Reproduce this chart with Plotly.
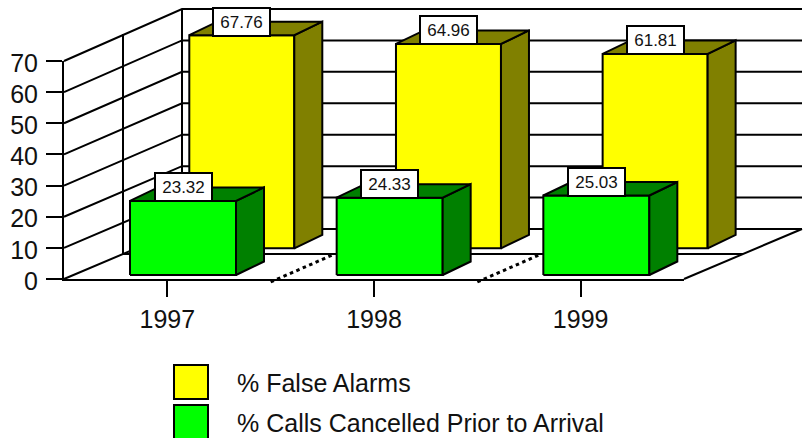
import plotly.graph_objects as go

# ---- data ----
years = ["1997", "1998", "1999"]
false_alarms = [67.76, 64.96, 61.81]
calls_cancelled = [23.32, 24.33, 25.03]
value_ticks = [0, 10, 20, 30, 40, 50, 60, 70]
legend_labels = ["% False Alarms", "% Calls Cancelled Prior to Arrival"]

# ---- canvas / pseudo-3D projection settings (pixels) ----
W, H = 804, 438
AX_L, AX_R, AX_B, AX_T = 64, 684, 279, 61
PX_CAT = (AX_R - AX_L) / 3
PX_VAL = (AX_B - AX_T) / 70
FONT = "Liberation Sans"
TXT = "#111111"
WALL_GAIN = 1.0093
WALL_DX, WALL_DY = 118, 50
RIGHT_EDGE = 802


def pt(cat, val, sx=0.0, sy=0.0, gain=1.0):
    """category/value position plus a depth shift given in pixels"""
    return cat + sx / PX_CAT, val * gain + sy / PX_VAL


fig = go.Figure()


def poly(points, fill=None, dash=None, width=2):
    xs = [p[0] for p in points]
    ys = [p[1] for p in points]
    if fill:
        xs.append(xs[0])
        ys.append(ys[0])
    fig.add_trace(go.Scatter(
        x=xs, y=ys, mode="lines", showlegend=False, hoverinfo="skip",
        fill="toself" if fill else None, fillcolor=fill,
        line=dict(color="black", width=width, dash=dash),
    ))


# walls
right_cat = (RIGHT_EDGE - AX_L) / PX_CAT
for v in value_ticks:
    poly([pt(0, v), pt(0, v, WALL_DX, WALL_DY, WALL_GAIN), pt(right_cat - WALL_DX / PX_CAT, v, WALL_DX, WALL_DY, WALL_GAIN)])
poly([pt(0, 0, WALL_DX, WALL_DY), pt(0, 70, WALL_DX, WALL_DY, WALL_GAIN)])
poly([pt(0, 0, WALL_DX / 2, WALL_DY / 2), pt(0, 70, WALL_DX / 2, WALL_DY / 2, WALL_GAIN)])
poly([pt(0, 0, WALL_DX / 2, WALL_DY / 2), pt(3, 0, WALL_DX / 2, WALL_DY / 2)])
poly([pt(3, 0), pt(3, 0, WALL_DX, WALL_DY)])

# dotted category separators on the floor
for c in (1, 2):
    poly([pt(c, 0, 0, -3), pt(c, 0, 64, 25)], dash="3.5px,3.5px", width=3)


def bar(cat, val, left, width, base, gain, face, dark, ddx=28, ddy=13.5):
    a = pt(cat, 0, left, base)
    b = pt(cat, 0, left + width, base)
    c = pt(cat, val, left + width, base, gain)
    d = pt(cat, val, left, base, gain)
    sb = pt(cat, 0, left + width + ddx, base + ddy)
    sc = pt(cat, val, left + width + ddx, base + ddy, gain)
    sd = pt(cat, val, left + ddx, base + ddy, gain)
    poly([a, b, c, d], fill=face)
    poly([b, sb, sc, c], fill=dark)
    poly([d, c, sc, sd], fill=dark)


annots = []


def label(cat, val, left, width, base, gain, ddy=13.5):
    x, y = pt(cat, val, left + width / 2, base + ddy, gain)
    annots.append(dict(
        x=x, y=y, xref="x", yref="y", text=f"{val:.2f}", showarrow=False,
        bgcolor="white", bordercolor="black", borderwidth=2, borderpad=0,
        width=55, height=26, align="center", valign="middle",
        font=dict(family=FONT, size=17, color=TXT),
    ))


for i, v in enumerate(false_alarms):
    bar(i, v, 125.3, 105, 30.7, 1.01, "#ffff00", "#808000")
for i, v in enumerate(calls_cancelled):
    bar(i, v, 66, 106, 4, 1.02, "#00ff00", "#008000")
for i, v in enumerate(false_alarms):
    label(i, v, 125.3, 105, 30.7, 1.01)
for i, v in enumerate(calls_cancelled):
    label(i, v, 66, 106, 4, 1.02)

# invisible carrier for the real tick axes
fig.add_trace(go.Scatter(x=[0.5, 1.5, 2.5], y=[0, 0, 0], xaxis="x2", yaxis="y2", mode="lines",
                         line=dict(color="rgba(0,0,0,0)"), showlegend=False, hoverinfo="skip"))

# legend
shapes = []
swatch_colors = ["#ffff00", "#00ff00"]
for k, (name, col) in enumerate(zip(legend_labels, swatch_colors)):
    top = 365 + 40 * k
    shapes.append(dict(
        type="rect", xref="paper", yref="paper", layer="above",
        x0=174 / W, x1=208 / W, y0=1 - top / H, y1=1 - (top + 34) / H,
        fillcolor=col, line=dict(color="black", width=2),
    ))
    annots.append(dict(
        x=235 / W, y=1 - (top + 18) / H, xref="paper", yref="paper", xanchor="left", yanchor="middle",
        text=name, showarrow=False, font=dict(family=FONT, size=25, color=TXT),
    ))

fig.update_layout(
    width=W, height=H, margin=dict(l=0, r=0, t=0, b=0, pad=0, autoexpand=False), autosize=False,
    paper_bgcolor="white", plot_bgcolor="rgba(0,0,0,0)", showlegend=False,
    font=dict(family=FONT, size=25, color=TXT),
    # full-canvas scales used by the marks: same units as the tick axes
    xaxis=dict(domain=[0, 1], range=[-AX_L / PX_CAT, (W - AX_L) / PX_CAT], visible=False, fixedrange=True),
    yaxis=dict(domain=[0, 1], range=[(AX_B - H) / PX_VAL, AX_B / PX_VAL], visible=False, fixedrange=True),
    xaxis2=dict(
        domain=[AX_L / W, AX_R / W], range=[0, 3], anchor="y2", tickmode="array",
        tickvals=[0.5, 1.5, 2.5], ticktext=years, ticks="outside", ticklen=16, tickwidth=2,
        tickcolor="black", showgrid=False, zeroline=False, showline=True, linecolor="black", linewidth=2,
        ticklabelstandoff=1, fixedrange=True,
    ),
    yaxis2=dict(
        domain=[1 - AX_B / H, 1 - AX_T / H], range=[0, 70], anchor="x2", tickmode="array",
        tickvals=value_ticks, ticks="outside", ticklen=16, tickwidth=2,
        tickcolor="black", showgrid=False, zeroline=False, showline=True, linecolor="black", linewidth=2,
        ticklabelstandoff=3, ticklabelshift=2, fixedrange=True,
    ),
    shapes=shapes, annotations=annots,
)

fig.write_html("out.html", config={"displayModeBar": False},
               post_script="document.body.style.margin='0';document.body.style.overflow='hidden';")
